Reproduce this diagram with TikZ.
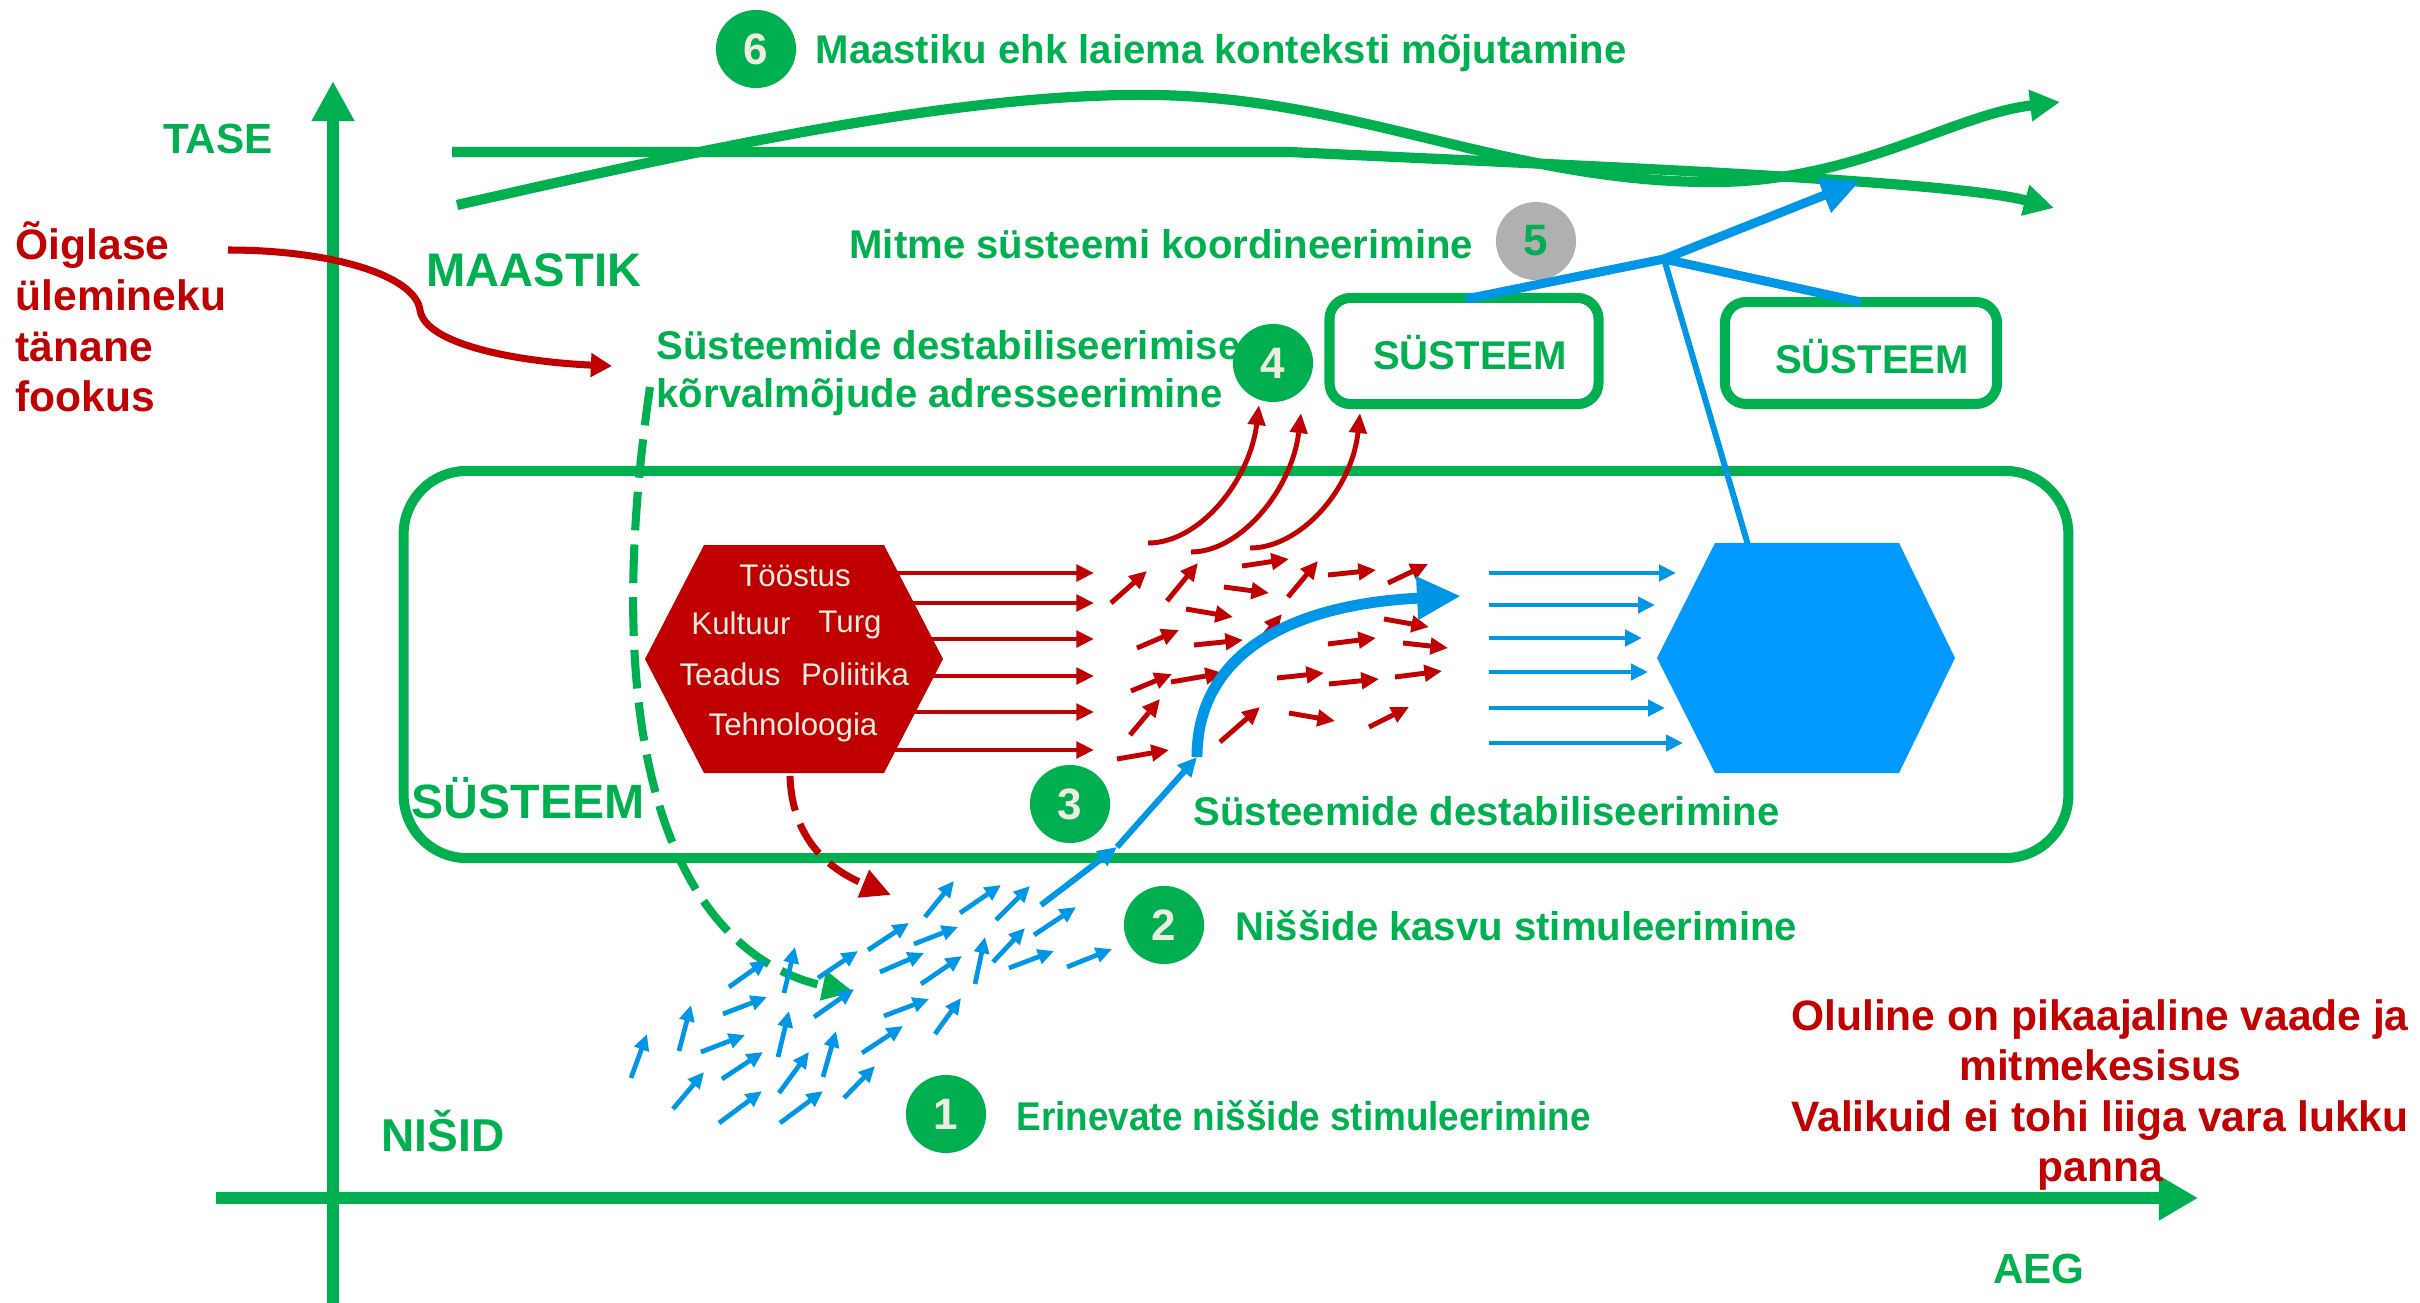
\documentclass[tikz,border=0pt]{standalone}
\usepackage{fontspec}
\setmainfont{Liberation Sans}
\usetikzlibrary{arrows.meta,shapes.geometric}
\definecolor{grn}{HTML}{00B050}
\definecolor{rd}{HTML}{C00000}
\definecolor{bl}{HTML}{0096E6}
\definecolor{bhex}{HTML}{0099FF}
\definecolor{gry}{HTML}{B0B0B0}
\definecolor{beige}{HTML}{EEECE1}
\tikzset{
  axisline/.style={grn, line width=3.4pt, -{Triangle[length=11.4pt,width=11.4pt]}},
  biglbl/.style={text=grn, inner sep=0pt, font=\fontsize{13.4}{16}\selectfont\bfseries},
  lbl/.style={text=grn, inner sep=0pt, anchor=west, font=\fontsize{11.4}{13.7}\selectfont\bfseries},
  num/.style={ellipse, fill=grn, minimum width=22.8pt, minimum height=22.2pt, inner sep=0pt, text=beige, font=\fontsize{12.5}{14}\selectfont\bfseries},
  redtxt/.style={text=rd, inner sep=0pt, font=\fontsize{12.1}{14.4}\selectfont\bfseries},
  hextxt/.style={text=beige, inner sep=0pt, font=\fontsize{8.9}{10}\selectfont},
  sbox/.style={draw=grn, line width=2.85pt, rounded corners=6pt, inner sep=0pt, text=grn, font=\fontsize{11.4}{13}\selectfont\bfseries},
  boxtxt/.style={text=grn, inner sep=0pt, font=\fontsize{11.4}{13}\selectfont\bfseries},
  rarr/.style={rd, line width=1.4pt, -{Triangle[length=5pt,width=4.6pt]}},
  barr/.style={bl, line width=1.35pt, -{Triangle[length=4.6pt,width=4.2pt]}},
  landline/.style={grn, line width=2.9pt, -{Triangle[length=8.5pt,width=8.5pt]}},
}
\begin{document}
\begin{tikzpicture}[x=0.01cm,y=-0.01cm]
\useasboundingbox (0,0) rectangle (2420,1303);
\fill[white] (0,0) rectangle (2420,1303);

% big system box
\node[draw=grn, line width=2.85pt, rounded corners=18pt, minimum width=473.4pt, minimum height=110.1pt, inner sep=0pt] (sysbox) at (1236,664.5) {};

% axes
\coordinate (yb) at (333,1303); \coordinate (yt) at (333,81);
\coordinate (xl) at (216,1198); \coordinate (xr) at (2198,1198);
\draw[axisline, -{Triangle[length=11.1pt,width=12pt]}] (xl) -- (xr);
\draw[axisline] (yb) -- (yt);

% axis / level labels
\node[biglbl, font=\fontsize{12}{14}\selectfont\bfseries] (tase) at (218,139) {TASE};
\node[biglbl] (maastik) at (534,270) {MAASTIK};
\node[biglbl, font=\fontsize{13.7}{16}\selectfont\bfseries] (systxt) at (528,798) {SÜSTEEM};
\node[biglbl, font=\fontsize{13.1}{16}\selectfont\bfseries] (nisid) at (443,1131) {NIŠID};
\node[biglbl, font=\fontsize{12}{14}\selectfont\bfseries] (aeg) at (2039,1269) {AEG};

% red texts
\node[redtxt, align=left, anchor=west] (focus) at (15,317) {Õiglase\\ülemineku\\tänane\\fookus};
\node[redtxt, align=center, font=\fontsize{12.1}{14.3}\selectfont\bfseries] (note) at (2100,1095) {Oluline on pikaajaline vaade ja\\mitmekesisus\\Valikuid ei tohi liiga vara lukku\\panna};

% landscape curves
\coordinate (la0) at (452,152); \coordinate (la1) at (1290,152); \coordinate (la2) at (2054,208);
\draw[landline] (la0) -- (la1) .. controls (1560,165) and (1950,180) .. (la2);
\coordinate (lb0) at (457,205); \coordinate (lb1) at (1155,95); \coordinate (lb2) at (1705,182); \coordinate (lb3) at (2060,102);
\draw[landline] (lb0) .. controls (700,150) and (960,92) .. (lb1) .. controls (1355,98) and (1505,180) .. (lb2) .. controls (1855,184) and (1950,115) .. (lb3);

% numbered labels
\node[num] (n6) at (756,49) {6};
\node[lbl] (t6) at (815,53) {Maastiku ehk laiema konteksti mõjutamine};
\node[num, fill=gry, text=grn] (n5) at (1536,241) {5};
\node[lbl, anchor=east] (t5) at (1474,244) {Mitme süsteemi koordineerimine};
\node[num] (n4) at (1273,363) {4};
\node[lbl, align=left] (t4) at (656,373) {Süsteemide destabiliseerimise\\kõrvalmõjude adresseerimine};
\node[num] (n3) at (1070,804) {3};
\node[lbl] (t3) at (1193,811) {Süsteemide destabiliseerimine};
\node[num] (n2) at (1164,925) {2};
\node[lbl] (t2) at (1235,926) {Niššide kasvu stimuleerimine};
\node[num] (n1) at (946,1114) {1};
\node[lbl, font=\fontsize{11.4}{13}\selectfont\bfseries\addfontfeature{FakeStretch=0.92}] (t1) at (1016,1116) {Erinevate niššide stimuleerimine};

% small system boxes
\node[sbox, minimum width=76.5pt, minimum height=30.2pt] (box1) at (1464,351) {};
\node[boxtxt] (box1t) at (1470,353) {SÜSTEEM};
\node[sbox, minimum width=77.4pt, minimum height=29pt] (box2) at (1861,353) {};
\node[boxtxt] (box2t) at (1872,357) {SÜSTEEM};

% red S-curve from focus text
\coordinate (rs0) at (228,250); \coordinate (rs1) at (420,310); \coordinate (rs2) at (612,366);
\draw[rd, line width=2pt, -{Triangle[length=6pt,width=6.5pt]}] (rs0) .. controls (330,250) and (415,275) .. (rs1) .. controls (425,345) and (520,362) .. (rs2);

% red hexagon
\coordinate (rhex) at (794,659);
\fill[rd] (704,545) -- (884,545) -- (943,659) -- (884,773) -- (704,773) -- (645,659) -- cycle;
\node[hextxt] (h1) at (795,576) {Tööstus};
\node[hextxt] (h2) at (741,623) {Kultuur};
\node[hextxt] (h3) at (850,625) {Turg};
\node[hextxt] (h4) at (730,674) {Teadus};
\node[hextxt] (h5) at (855,674) {Poliitika};
\node[hextxt] (h6) at (793,727) {Tehnoloogia};

% red horizontal arrows
\foreach \xs/\yy in {896/573, 912/603, 930/639, 932/676, 914/712, 894/750}
  \draw[rarr] (\xs,\yy) -- (1094,\yy);

% red arrow field
\foreach \ax/\ay/\bx/\by in {1111/603/1147/571, 1167/601/1198/563, 1242/566/1289/559, 1288/597/1318/561,
  1328/575/1376/570, 1388/583/1428/564, 1224/587/1269/593, 1186/609/1233/617, 1252/650/1282/614,
  1384/619/1429/627, 1137/648/1179/630, 1194/645/1243/640, 1328/644/1376/638, 1403/643/1448/648,
  1131/691/1172/674, 1171/682/1223/673, 1277/678/1324/673, 1329/684/1379/679, 1395/677/1442/671,
  1130/735/1160/699, 1220/742/1260/707, 1289/713/1335/721, 1369/727/1409/707, 1117/759/1169/750}
  \draw[rarr] (\ax,\ay) -- (\bx,\by);

% red curved arrows up to 4
\draw[rarr, -{Triangle[length=5.7pt,width=4.8pt]}] (1148,543) .. controls (1200,543) and (1250,480) .. (1259,405);
\draw[rarr, -{Triangle[length=5.7pt,width=4.8pt]}] (1191,552) .. controls (1240,552) and (1292,490) .. (1301,413);
\draw[rarr, -{Triangle[length=5.7pt,width=4.8pt]}] (1250,548) .. controls (1300,548) and (1352,490) .. (1360,413);

% red dashed arrow from hexagon
\coordinate (rd0) at (790,776); \coordinate (rd1) at (891,895);
\draw[rd, line width=2pt, dash pattern=on 10pt off 4pt, -{Triangle[length=8.5pt,width=8pt]}] (rd0) .. controls (792,840) and (830,870) .. (rd1);

% green dashed arrow
\coordinate (gd0) at (650,387); \coordinate (gd1) at (854,992);
\draw[grn, line width=2.3pt, dash pattern=on 11pt off 4pt, -{Triangle[length=9pt,width=8pt]}] (gd0) .. controls (590,800) and (700,960) .. (gd1);

% blue arrow field (niches)
\foreach \ax/\ay/\bx/\by in {925/917/954/881, 960/913/1001/885, 996/920/1030/886, 1034/935/1076/907,
  868/950/909/923, 914/944/958/927, 993/962/1025/928, 1009/968/1054/951, 1067/967/1112/949,
  729/987/767/960, 784/993/795/947, 818/978/858/951, 880/972/924/953, 921/984/962/956, 975/984/985/937,
  723/1014/767/997, 814/1017/854/989, 884/1016/929/999, 935/1034/961/998,
  679/1051/691/1005, 701/1052/745/1035, 778/1057/789/1011, 862/1053/903/1026,
  631/1078/647/1034, 722/1079/763/1052, 779/1093/809/1052, 823/1077/836/1031, 844/1098/875/1066,
  673/1109/704/1072, 719/1123/762/1091, 780/1123/823/1091}
  \draw[barr] (\ax,\ay) -- (\bx,\by);

% blue chain and thick curve
\coordinate (bc0) at (1041,905); \coordinate (bc1) at (1117,847); \coordinate (bc2) at (1197,757);
\draw[bl, line width=1.7pt, -{Triangle[length=5.5pt,width=5pt]}] (bc0) -- (bc1);
\draw[bl, line width=1.7pt, -{Triangle[length=5.5pt,width=5pt]}] (bc1) -- (bc2);
\coordinate (bt) at (1461,596);
\draw[bl, line width=3.1pt, -{Triangle[length=12.5pt,width=11.5pt]}] (bc2) .. controls (1197,660) and (1280,605) .. (bt);

% blue horizontal arrows
\foreach \yy/\xe in {573/1676, 605/1655, 638/1642, 672/1648, 708/1665, 743/1683}
  \draw[barr, line width=1.4pt, -{Triangle[length=4.8pt,width=4.5pt]}] (1489,\yy) -- (\xe,\yy);

% blue hexagon
\coordinate (bhexc) at (1806,658);
\fill[bhex] (1715,543) -- (1899,543) -- (1955,658) -- (1899,773) -- (1715,773) -- (1657,658) -- cycle;

% coordination lines
\coordinate (jn) at (1664,259);
\coordinate (hextop) at (1748,545);
\coordinate (b1t) at (1466,299);
\coordinate (b2t) at (1861,302);
\coordinate (upr) at (1860,181);
\draw[bl, line width=1.7pt] (hextop) -- (jn);
\draw[bl, line width=2.56pt] (b1t) -- (jn) -- (b2t);
\draw[bl, line width=2.56pt, -{Triangle[length=11pt,width=10pt]}] (jn) -- (upr);

\end{tikzpicture}
\end{document}
